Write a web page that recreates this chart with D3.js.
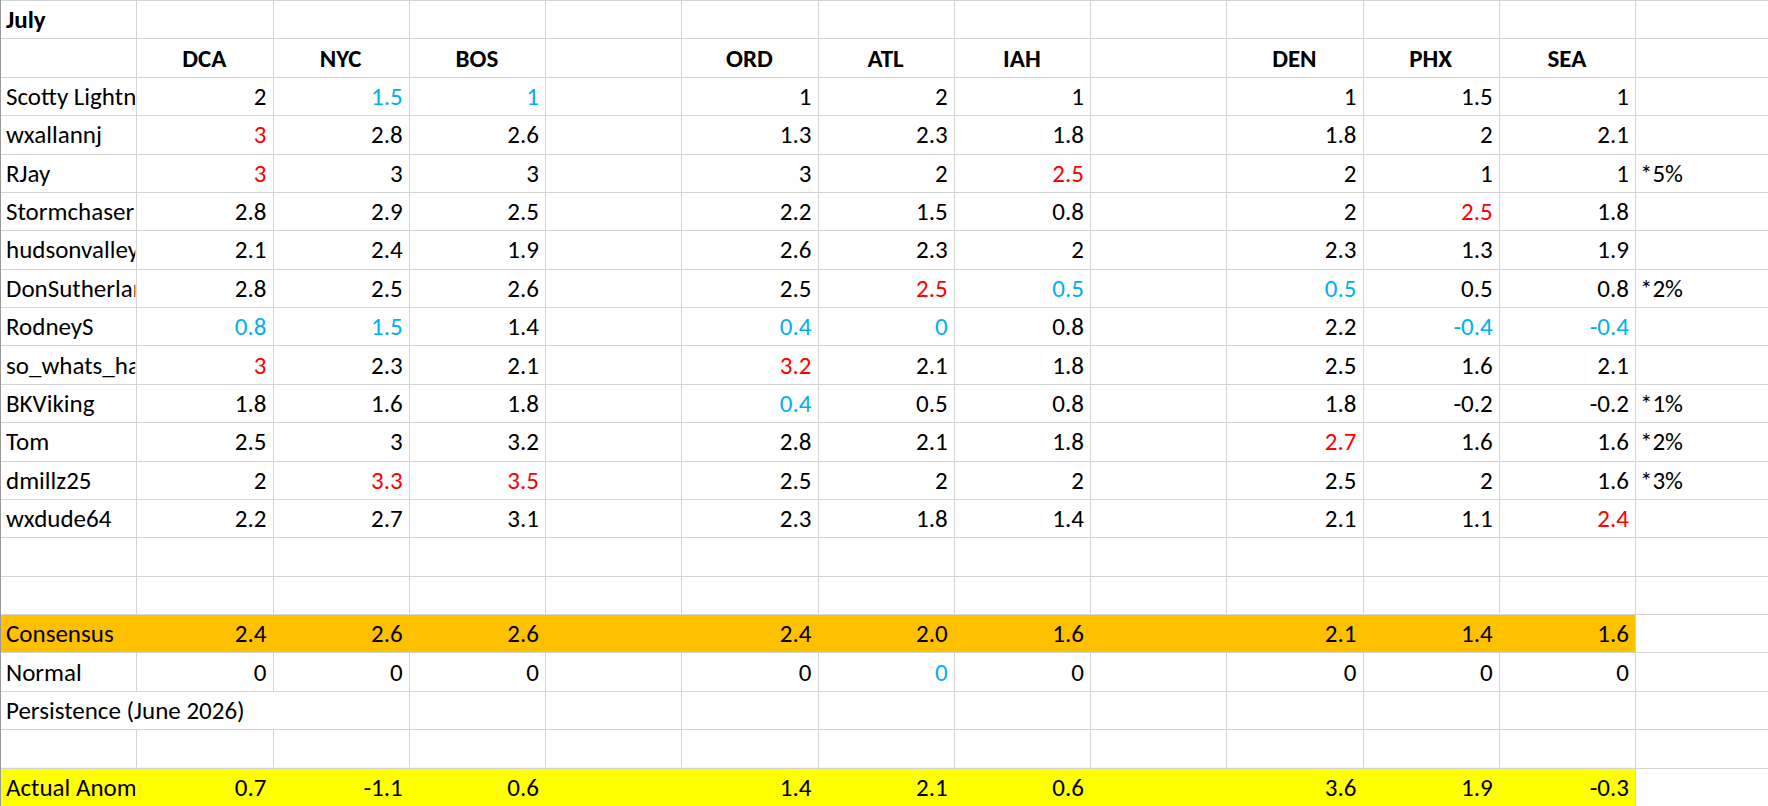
<!DOCTYPE html>
<html><head><meta charset="utf-8">
<script src="https://cdn.jsdelivr.net/npm/d3@7"></script>
<style>body{margin:0;background:#fff}text{font-family:Calibri,Carlito,"Open Sans",sans-serif}</style>
</head><body>
<script>
var title = "July";
var stations = ["DCA","NYC","BOS","ORD","ATL","IAH","DEN","PHX","SEA"];
var stationCols = [1,2,3,5,6,7,9,10,11];
var forecasters = ["Scotty Lightning","wxallannj","RJay","Stormchaser Chuck","hudsonvalley21","DonSutherland1","RodneyS","so_whats_happening","BKViking","Tom","dmillz25","wxdude64"];
var forecasts = [
  [2,1.5,1,1,2,1,1,1.5,1],
  [3,2.8,2.6,1.3,2.3,1.8,1.8,2,2.1],
  [3,3,3,3,2,2.5,2,1,1],
  [2.8,2.9,2.5,2.2,1.5,0.8,2,2.5,1.8],
  [2.1,2.4,1.9,2.6,2.3,2,2.3,1.3,1.9],
  [2.8,2.5,2.6,2.5,2.5,0.5,0.5,0.5,0.8],
  [0.8,1.5,1.4,0.4,0,0.8,2.2,-0.4,-0.4],
  [3,2.3,2.1,3.2,2.1,1.8,2.5,1.6,2.1],
  [1.8,1.6,1.8,0.4,0.5,0.8,1.8,-0.2,-0.2],
  [2.5,3,3.2,2.8,2.1,1.8,2.7,1.6,1.6],
  [2,3.3,3.5,2.5,2,2,2.5,2,1.6],
  [2.2,2.7,3.1,2.3,1.8,1.4,2.1,1.1,2.4]
];
// "h" = highest forecast, "l" = lowest forecast
var flags = [
  ["","l","l","","","","","",""],
  ["h","","","","","","","",""],
  ["h","","","","","h","","",""],
  ["","","","","","","","h",""],
  ["","","","","","","","",""],
  ["","","","","h","l","l","",""],
  ["l","l","","l","l","","","l","l"],
  ["h","","","h","","","","",""],
  ["","","","l","","","","",""],
  ["","","","","","","h","",""],
  ["","h","h","","","","","",""],
  ["","","","","","","","","h"]
];
var notes = ["","","*5%","","","*2%","","","*1%","*2%","*3%",""];
var consensus = [2.4,2.6,2.6,2.4,2.0,1.6,2.1,1.4,1.6];
var normal = [0,0,0,0,0,0,0,0,0];
var normalFlags = ["","","","","l","","","",""];
var actual = [0.7,-1.1,0.6,1.4,2.1,0.6,3.6,1.9,-0.3];

var W = 1768, H = 806, nRows = 21, nCols = 13;
var x = d3.scaleLinear().domain([0, 12]).range([0, 1635]);
var y = d3.scaleLinear().domain([0, nRows]).range([0, H]);
var cw = x(1) - x(0), rh = y(1) - y(0);
var colour = {h: "#ff0000", l: "#00b0f0", "": "#000"};

var svg = d3.select("body").append("svg").attr("width", W).attr("height", H);
var defs = svg.append("defs");

// fills
var fills = [{row: 16, c: "#ffc000"}, {row: 20, c: "#ffff00"}];
svg.selectAll("rect.fill").data(fills).enter().append("rect")
  .attr("x", 0).attr("y", d => y(d.row)).attr("width", x(12)).attr("height", rh)
  .attr("fill", d => d.c);

// grid
var g = svg.append("g").attr("stroke", "#d4d4d4").attr("stroke-width", 1);
d3.range(0, nRows + 1).forEach(function(r){
  g.append("line").attr("x1", 0).attr("x2", W).attr("y1", Math.round(y(r)) + 0.5).attr("y2", Math.round(y(r)) + 0.5);
});
d3.range(1, nCols + 1).forEach(function(c){
  var xx = Math.round(x(c)) + 0.5;
  d3.range(0, nRows).forEach(function(r){
    if ((r === 16 || r === 20) && c < 12) return;
    if (r === 18 && c <= 2) return;
    g.append("line").attr("x1", xx).attr("x2", xx).attr("y1", y(r)).attr("y2", y(r + 1));
  });
});
svg.append("line").attr("x1", 0.5).attr("x2", 0.5).attr("y1", 0).attr("y2", H).attr("stroke", "#9a9a9a");

defs.append("clipPath").attr("id", "colA").append("rect").attr("x", 0).attr("y", 0).attr("width", x(1) - 1).attr("height", H);

var fs = 25;
function base(r){ return y(r) + rh / 2 + fs * 0.36; }

svg.append("text").attr("x", 6).attr("y", base(0)).attr("font-size", fs).attr("font-weight", "bold").text(title);

svg.selectAll("text.hdr").data(stations).enter().append("text")
  .attr("x", (d, i) => x(stationCols[i]) + cw / 2).attr("y", base(1))
  .attr("text-anchor", "middle").attr("font-size", fs).attr("font-weight", "bold").text(d => d);

var labels = forecasters.map((n, i) => ({t: n, r: i + 2, clip: true}))
  .concat([{t: "Consensus", r: 16, clip: true}, {t: "Normal", r: 17, clip: true},
           {t: "Persistence (June 2026)", r: 18, clip: false}, {t: "Actual Anomaly", r: 20, clip: true}]);
svg.selectAll("text.lbl").data(labels).enter().append("text")
  .attr("x", 6).attr("y", d => base(d.r)).attr("font-size", fs)
  .attr("clip-path", d => d.clip ? "url(#colA)" : null).text(d => d.t);

function valueRow(vals, r, fl, fmt){
  svg.append("g").selectAll("text").data(vals).enter().append("text")
    .attr("x", (d, i) => x(stationCols[i] + 1) - 6).attr("y", base(r))
    .attr("text-anchor", "end").attr("font-size", fs)
    .attr("fill", (d, i) => colour[fl ? fl[i] : ""]).text(d => fmt(d));
}
var fmtG = d => String(d);
forecasts.forEach((row, i) => valueRow(row, i + 2, flags[i], fmtG));
valueRow(consensus, 16, null, d3.format(".1f"));
valueRow(normal, 17, normalFlags, fmtG);
valueRow(actual, 20, null, fmtG);

svg.selectAll("text.note").data(notes.map((n, i) => ({t: n, r: i + 2})).filter(d => d.t)).enter().append("text")
  .attr("x", x(12) + 5).attr("y", d => base(d.r)).attr("font-size", fs).text(d => d.t);
</script>
</body></html>
